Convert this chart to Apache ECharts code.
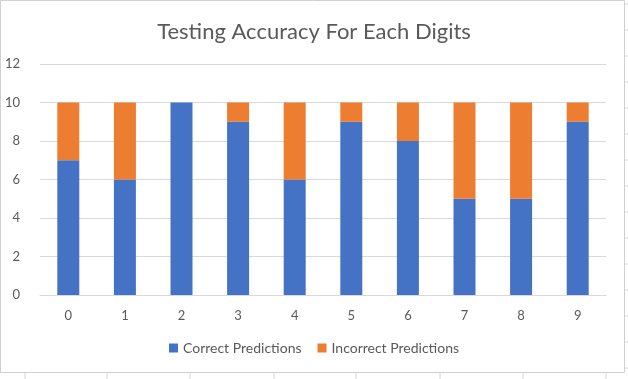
<!DOCTYPE html>
<html>
<head>
    <meta charset="UTF-8">
    <title>Testing Accuracy</title>
    <script src="https://cdn.jsdelivr.net/npm/echarts@6/dist/echarts.min.js"></script>
    <style>
        html, body { margin: 0; padding: 0; background: #fff; }
        #main { width: 628px; height: 379px; }
    </style>
</head>
<body>
<div id="main"></div>
<script>
    // data
    var digits = ['0', '1', '2', '3', '4', '5', '6', '7', '8', '9'];
    var correct = [7, 6, 10, 9, 6, 9, 8, 5, 5, 9];
    var incorrect = [3, 4, 0, 1, 4, 1, 2, 5, 5, 1];

    // spreadsheet cell lines behind the chart box
    var cellLines = [];
    [25, 107, 190, 274, 356, 440, 523, 606].forEach(function (x) {
        cellLines.push({ type: 'line', z: -1, shape: { x1: x, y1: 373, x2: x, y2: 379 }, style: { stroke: '#d4d4d4', lineWidth: 1 } });
    });
    for (var y = 4; y < 379; y += 26) {
        cellLines.push({ type: 'line', z: -1, shape: { x1: 625, y1: y, x2: 628, y2: y }, style: { stroke: '#d4d4d4', lineWidth: 1 } });
    }
    cellLines.push({ type: 'rect', z: -1, shape: { x: 0.5, y: 0.5, width: 624, height: 372 }, style: { fill: '#fff', stroke: '#d0d0d0', lineWidth: 1 } });

    var myChart = echarts.init(document.getElementById('main'));
    var option = {
        backgroundColor: '#fff',
        animation: false,
        textStyle: { fontFamily: 'Lato' },
        title: {
            text: 'Testing Accuracy For Each Digits',
            left: 'center',
            top: 16,
            textStyle: { fontFamily: 'Lato', fontWeight: 'normal', fontSize: 22, color: '#595959' }
        },
        graphic: cellLines,
        legend: {
            bottom: 19,
            left: 'center',
            itemWidth: 9,
            itemHeight: 9,
            itemGap: 16,
            icon: 'rect',
            textStyle: { color: '#595959', fontSize: 14 },
            data: ['Correct Predictions', 'Incorrect Predictions']
        },
        grid: { left: 40, right: 22, top: 64, bottom: 84 },
        xAxis: {
            type: 'category',
            data: digits,
            axisLine: { lineStyle: { color: '#d9d9d9' } },
            axisTick: { show: false },
            axisLabel: { color: '#595959', fontSize: 13, margin: 14 }
        },
        yAxis: {
            type: 'value',
            min: 0,
            max: 12,
            interval: 2,
            axisLine: { show: false },
            axisTick: { show: false },
            axisLabel: { color: '#595959', fontSize: 13, margin: 20 },
            splitLine: { lineStyle: { color: '#d9d9d9' } }
        },
        series: [
            {
                name: 'Correct Predictions',
                type: 'bar',
                stack: 'total',
                barWidth: 22,
                data: correct,
                itemStyle: { color: '#4472C4' }
            },
            {
                name: 'Incorrect Predictions',
                type: 'bar',
                stack: 'total',
                barWidth: 22,
                data: incorrect,
                itemStyle: { color: '#ED7D31' }
            }
        ]
    };
    myChart.setOption(option);
</script>
</body>
</html>
